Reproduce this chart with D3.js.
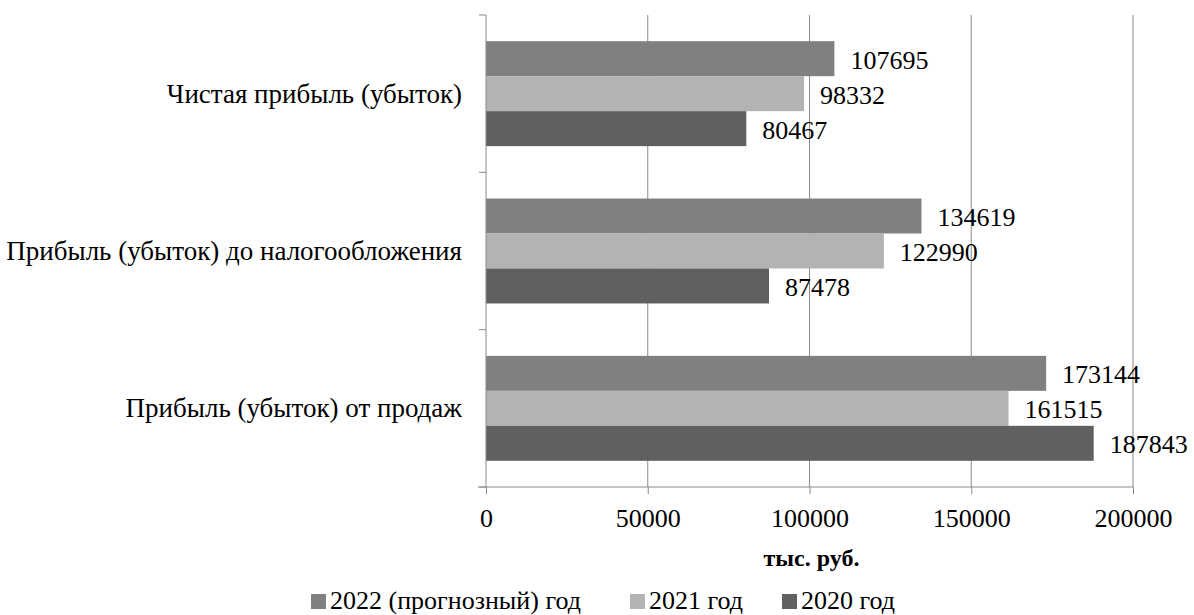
<!DOCTYPE html>
<html><head><meta charset="utf-8">
<style>
  svg#chart text { font-family: "Liberation Serif", Tinos, serif !important; }
</style>
<script src="https://cdn.jsdelivr.net/npm/d3@7/dist/d3.min.js"></script></head>
<body style="margin:0;background:#fff">
<svg id="chart" width="1194" height="615" font-family="Liberation Serif"></svg>
<script>
// Indicators (drawn top to bottom)
const categories = [
  "Чистая прибыль (убыток)",
  "Прибыль (убыток) до налогообложения",
  "Прибыль (убыток) от продаж"
];
const seriesNames = ["2022 (прогнозный) год", "2021 год", "2020 год"];
const values2022 = [107695, 134619, 173144];
const values2021 = [98332, 122990, 161515];
const values2020 = [80467, 87478, 187843];
const tickValues = [0, 50000, 100000, 150000, 200000];
const axisTitle = "тыс. руб.";
const colors = ["#808080", "#b3b3b3", "#606060"];

const seriesValues = [values2022, values2021, values2020];
const FONT = "Liberation Serif";

const svg = d3.select("#chart");
const plotLeft = 486, plotRight = 1133, plotTop = 15, plotBottom = 487;

const x = d3.scaleLinear().domain([0, 200000]).range([plotLeft, plotRight]);
const y = d3.scaleBand().domain(categories).range([plotTop, plotBottom]).paddingInner(0.333).paddingOuter(0.1665);
const ySub = d3.scaleBand().domain(seriesNames).range([0, y.bandwidth()]);

const axisColor = "#8a8a8a";

// Vertical gridlines
svg.append("g").selectAll("line").data(tickValues.slice(1)).join("line")
  .attr("x1", d => x(d)).attr("x2", d => x(d))
  .attr("y1", plotTop).attr("y2", plotBottom)
  .attr("stroke", axisColor).attr("stroke-width", 1);

// Bars
const groups = svg.append("g").selectAll("g").data(categories).join("g")
  .attr("transform", d => `translate(0,${y(d)})`);

groups.each(function(cat, ci) {
  const g = d3.select(this);
  seriesNames.forEach((s, si) => {
    const v = seriesValues[si][ci];
    g.append("rect")
      .attr("x", x(0)).attr("y", ySub(s))
      .attr("width", x(v) - x(0)).attr("height", ySub.bandwidth())
      .attr("fill", colors[si]);
  });
});

// Value labels next to bar ends
const labelData = [];
categories.forEach((cat, ci) => seriesNames.forEach((s, si) => {
  labelData.push({ cat, s, v: seriesValues[si][ci] });
}));
svg.append("g").selectAll("text").data(labelData).join("text")
  .attr("x", d => x(d.v) + 16)
  .attr("y", d => y(d.cat) + ySub(d.s) + ySub.bandwidth() / 2 + 10)
  .style("font-family", FONT).style("font-size", "26px")
  .text(d => d.v);

// Left axis with category boundary ticks
svg.append("line").attr("x1", plotLeft).attr("x2", plotLeft).attr("y1", plotTop).attr("y2", plotBottom)
  .attr("stroke", axisColor);
const bounds = [plotTop, ...categories.map(c => y(c) + y.bandwidth() + y.step() * y.paddingInner() / 2)];
bounds[bounds.length - 1] = plotBottom;
svg.append("g").selectAll("line").data(bounds).join("line")
  .attr("x1", plotLeft - 7).attr("x2", plotLeft).attr("y1", d => d).attr("y2", d => d)
  .attr("stroke", axisColor);

// Category labels
svg.append("g").selectAll("text").data(categories).join("text")
  .attr("x", plotLeft - 24).attr("y", d => y(d) + y.bandwidth() / 2 + 9)
  .attr("text-anchor", "end")
  .style("font-family", FONT).style("font-size", "27px")
  .text(d => d);

// Bottom axis
const xAxis = d3.axisBottom(x).tickValues(tickValues).tickSize(7).tickPadding(0).tickFormat(d3.format("d"));
const gx = svg.append("g").attr("transform", `translate(0,${plotBottom})`).call(xAxis);
gx.attr("font-family", FONT).attr("font-size", null);
gx.select(".domain").attr("stroke", axisColor).attr("d", `M${plotLeft - 8},0H${plotRight}`);
gx.selectAll(".tick line").attr("stroke", axisColor);
gx.selectAll(".tick text")
  .attr("dy", null).attr("y", 40).attr("fill", "#000")
  .style("font-family", FONT).style("font-size", "26px");

svg.append("text").attr("x", x(100000) + 2).attr("y", 566)
  .attr("text-anchor", "middle")
  .style("font-family", FONT).style("font-size", "24px").style("font-weight", "bold")
  .text(axisTitle);

// Legend
const legendX = [311, 630, 782];
const legend = svg.append("g").selectAll("g").data(seriesNames).join("g")
  .attr("transform", (d, i) => `translate(${legendX[i]},0)`);
legend.append("rect").attr("x", 0).attr("y", 594).attr("width", 15).attr("height", 15)
  .attr("fill", (d, i) => colors[i]);
legend.append("text").attr("x", 19).attr("y", 609)
  .style("font-family", FONT).style("font-size", "26px").text(d => d);
</script>
</body>
</html>
